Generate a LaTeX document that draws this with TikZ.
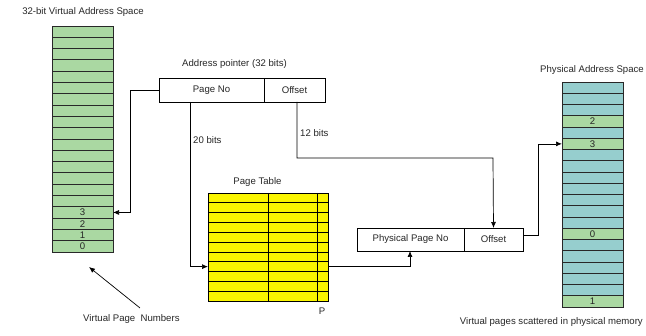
\documentclass[tikz,border=0pt]{standalone}
\usepackage{fontspec}
\setmainfont{Liberation Sans}
\usetikzlibrary{arrows.meta}
\definecolor{vgreen}{RGB}{170,216,162}
\definecolor{pteal}{RGB}{150,206,206}
\definecolor{tyellow}{RGB}{250,245,0}
\definecolor{linegray}{RGB}{40,40,40}
\begin{document}
\begin{tikzpicture}[x=1pt,y=-1pt,
  every node/.style={font=\fontsize{9.6}{11}\selectfont, text=black!85},
  vcell/.style={draw=linegray, line width=0.8pt, fill=vgreen, minimum width=61pt, minimum height=11.3pt, inner sep=0pt, outer sep=0pt},
  pcell/.style={draw=linegray, line width=0.8pt, fill=pteal, minimum width=61pt, minimum height=11.25pt, inner sep=0pt, outer sep=0pt},
  trow/.style={draw=black, line width=0.8pt, fill=tyellow, minimum width=120pt, minimum height=9.82pt, inner sep=0pt, outer sep=0pt},
  field/.style={draw=black, line width=0.6pt, fill=white, inner sep=0pt, outer sep=0pt},
  lbl/.style={inner sep=0pt},
  conn/.style={draw=black, line width=0.7pt},
  arr/.style={conn, -{Latex[length=6pt,width=5pt]}}
]
\useasboundingbox (0,0) rectangle (646,336);

% virtual address space
\foreach \i in {0,...,19} {
  \node[vcell] (v\i) at (82.5,{26+(\i+0.5)*11.3}) {};
}
\node[lbl] at (v16) {3};
\node[lbl] at (v17) {2};
\node[lbl] at (v18) {1};
\node[lbl] at (v19) {0};
\node[lbl] (vtitle) at (83,12) {32-bit Virtual Address Space};

% address pointer
\node[field, minimum width=105pt, minimum height=24pt] (pageno) at (211.5,90) {Page No};
\node[field, minimum width=61pt, minimum height=24pt, anchor=west] (offset) at (pageno.east) {Offset};
\node[lbl] (aptitle) at (234.5,64) {Address pointer (32 bits)};

% page table
\foreach \i in {0,...,10} {
  \node[trow] (t\i) at (268,{193+(\i+0.5)*9.82}) {};
}
\draw[black, line width=0.8pt] (268,193) -- (268,301);
\draw[black, line width=0.8pt] (317,193) -- (317,301);
\node[lbl] (pttitle) at (257.5,182) {Page Table};
\node[lbl] (plabel) at (322,311) {P};

% physical address
\node[field, minimum width=107pt, minimum height=23pt] (ppn) at (410.5,239.5) {Physical Page No};
\node[field, minimum width=59pt, minimum height=23pt, anchor=west] (poff) at (ppn.east) {Offset};

% physical address space
\foreach \i in {0,...,19} {
  \node[pcell] (p\i) at (592.5,{82+(\i+0.5)*11.25}) {};
}
\foreach \i/\t in {3/2,5/3,13/0,19/1} {
  \node[vcell, minimum height=11.25pt] at (p\i) {\t};
}
\node[lbl] (patitle) at (592,70) {Physical Address Space};
\node[lbl, anchor=east] (scatter) at (643,322) {Virtual pages scattered in physical memory};

% labels
\node[lbl, anchor=west] (b20) at (193,140) {20 bits};
\node[lbl, anchor=west] (b12) at (300,133) {12 bits};
\node[lbl, anchor=west] (vpn) at (83,319) {Virtual Page\ \ Numbers};

% connectors
\coordinate (c1) at (130,90);
\draw[arr] (pageno.west) -- (c1) |- (v16.east);
\coordinate (c2) at (190,102);
\draw[arr] (c2) |- (t7.west);
\coordinate (c3) at (297,102);
\coordinate (c4) at (493,158);
\draw[arr] (c3) |- (c4) -- (poff.north);
\coordinate (c5) at (410,251);
\draw[arr] (t7.east) -| (c5);
\coordinate (c6) at (538,235);
\draw[arr] (c6 -| poff.east) -- (c6) |- (p5.west);
\coordinate (vtip) at (89,267);
\coordinate (vtail) at (140,308);
\draw[arr] (vtail) -- (vtip);
\end{tikzpicture}
\end{document}
